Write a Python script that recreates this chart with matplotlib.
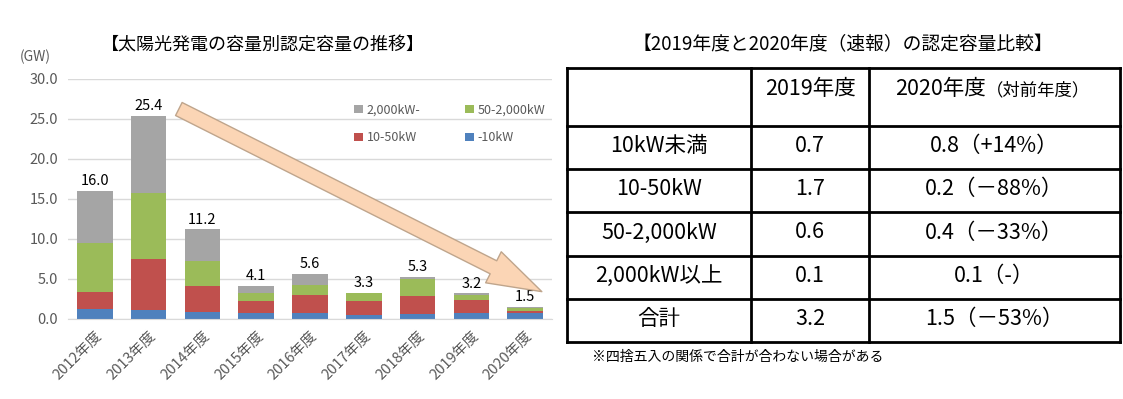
import numpy as np
import matplotlib.pyplot as plt

plt.rcParams['font.family'] = ['Noto Sans CJK JP', 'DejaVu Sans']

YEARS = ["2012年度", "2013年度", "2014年度", "2015年度", "2016年度",
         "2017年度", "2018年度", "2019年度", "2020年度"]
UNDER_10 = [1.2, 1.1, 0.9, 0.7, 0.7, 0.5, 0.6, 0.7, 0.8]
KW_10_50 = [2.2, 6.4, 3.2, 1.5, 2.3, 1.7, 2.3, 1.7, 0.2]
KW_50_2000 = [6.1, 8.3, 3.2, 1.1, 1.25, 1.0, 2.1, 0.65, 0.4]
OVER_2000 = [6.5, 9.6, 3.9, 0.8, 1.35, 0.1, 0.3, 0.15, 0.1]
TOTALS = [16.0, 25.4, 11.2, 4.1, 5.6, 3.3, 5.3, 3.2, 1.5]

SERIES = [
    ("-10kW", UNDER_10, "#4F81BD"),
    ("10-50kW", KW_10_50, "#C0504D"),
    ("50-2,000kW", KW_50_2000, "#9BBB59"),
    ("2,000kW-", OVER_2000, "#A5A5A5"),
]

TABLE_HEADER = ["", "2019年度", "2020年度", "（対前年度）"]
TABLE_ROWS = ["10kW未満", "10-50kW", "50-2,000kW", "2,000kW以上", "合計"]
TABLE_2019 = ["0.7", "1.7", "0.6", "0.1", "3.2"]
TABLE_2020 = ["0.8（+14%）", "0.2（－88%）", "0.4（－33%）", "0.1（-）", "1.5（－53%）"]

W, H = 1123, 399
fig = plt.figure(figsize=(W / 100, H / 100), dpi=100)

# ---- left chart ----
ax = fig.add_axes([68 / W, 1 - 319 / H, 484 / W, 240 / H])
x = np.arange(len(YEARS))
bottom = np.zeros(len(YEARS))
bars = {}
for name, vals, color in SERIES:
    bars[name] = ax.bar(x, vals, 0.66, bottom=bottom, color=color, label=name, zorder=2)
    bottom += np.array(vals)

for xi, top, t in zip(x, bottom, TOTALS):
    ax.text(xi, top + 0.35, f"{t:.1f}", ha="center", va="bottom", fontsize=10.5, color="black")

ax.set_xlim(-0.5, len(YEARS) - 0.5)
ax.set_ylim(0, 30)
ticks = np.arange(0, 30.1, 5)
ax.set_yticks(ticks)
ax.set_yticklabels([f"{v:.1f}" for v in ticks], color="#595959", fontsize=10.5)
ax.set_xticks(x)
ax.set_xticklabels(YEARS, rotation=45, ha="right", rotation_mode="anchor", color="#595959", fontsize=10.5)
ax.tick_params(length=0, pad=7)
ax.grid(axis="y", color="#D9D9D9", linewidth=1, zorder=0)
for s in ["top", "right", "left"]:
    ax.spines[s].set_visible(False)
ax.spines["bottom"].set_color("#D9D9D9")

order = ["2,000kW-", "10-50kW", "50-2,000kW", "-10kW"]
ax.legend([bars[n] for n in order], order, ncol=2, loc="upper right", bbox_to_anchor=(1.01, 0.945),
          frameon=False, fontsize=9, labelcolor="#595959", handlelength=0.7, handleheight=0.7,
          handletextpad=0.3, columnspacing=3.6, labelspacing=1.2)

# decorative trend arrow
ax.annotate("", xy=(0.979, 0.114), xytext=(0.229, 0.875),
            xycoords="axes fraction", textcoords="axes fraction",
            arrowprops=dict(arrowstyle="simple,head_length=3.9,head_width=2.5,tail_width=1.05",
                            mutation_scale=10, shrinkA=0, shrinkB=0,
                            fc="#FBD5B5", ec="#BFA58C", lw=1), zorder=5)

fig.text(35 / W, 1 - 57 / H, "(GW)", fontsize=10, color="#595959", ha="center", va="center")
fig.text(263 / W, 1 - 46 / H, "【太陽光発電の容量別認定容量の推移】", fontsize=13,
         ha="center", va="center")

# ---- right table ----
tax = fig.add_axes([0, 0, 1, 1])
tax.set_xlim(0, W)
tax.set_ylim(H, 0)
tax.axis("off")

col_edges = [567, 751, 869, 1120]
row_edges = [68, 126, 169, 212, 256, 299, 342]
for xe in col_edges:
    tax.plot([xe, xe], [row_edges[0], row_edges[-1]], color="black", lw=2)
for ye in row_edges:
    tax.plot([col_edges[0], col_edges[-1]], [ye, ye], color="black", lw=2)

cx = [(col_edges[i] + col_edges[i + 1]) / 2 for i in range(3)]
hy = 95
tax.text(cx[1], hy, TABLE_HEADER[1], fontsize=15.5, ha="center", va="baseline")
tax.text(986, hy, TABLE_HEADER[2], fontsize=15.5, ha="right", va="baseline")
tax.text(986, hy, TABLE_HEADER[3], fontsize=12.5, ha="left", va="baseline")

for i, (lab, v19, v20) in enumerate(zip(TABLE_ROWS, TABLE_2019, TABLE_2020)):
    yc = (row_edges[i + 1] + row_edges[i + 2]) / 2 - 1.5
    tax.text(cx[0], yc, lab, fontsize=15.5, ha="center", va="center")
    tax.text(cx[1], yc, v19, fontsize=15.5, ha="center", va="center")
    tax.text(cx[2], yc, v20, fontsize=15.5, ha="center", va="center")

tax.text(843, 45, "【2019年度と2020年度（速報）の認定容量比較】", fontsize=13.5, ha="center", va="center")
tax.text(592, 357, "※四捨五入の関係で合計が合わない場合がある", fontsize=10, ha="left", va="center")

fig.savefig("out.png", dpi=100)
